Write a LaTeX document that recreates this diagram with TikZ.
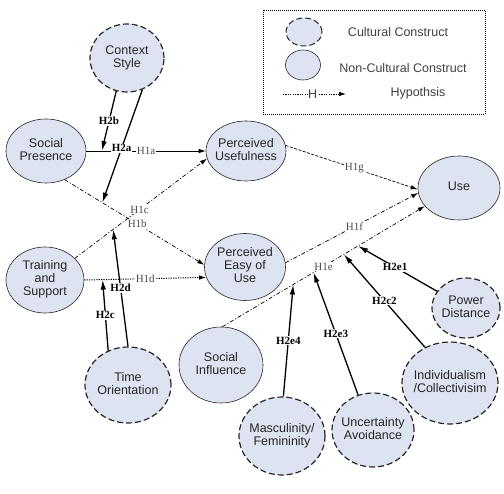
\documentclass[tikz,border=0pt]{standalone}
\usepackage{fontspec}
\setmainfont{Liberation Serif}
\setsansfont{Liberation Sans}
\usetikzlibrary{arrows.meta, shapes.geometric}

\definecolor{cfill}{RGB}{221,227,240}
\newcommand{\cname}[1]{\makebox[0pt]{\begin{tabular}{@{}c@{}}#1\end{tabular}}}

\begin{document}
\begin{tikzpicture}[x=1pt, y=-1pt, line join=round,
  construct/.style={ellipse, draw=black!85, fill=cfill, line width=0.6pt,
    inner sep=0pt, font=\sffamily\fontsize{12.5}{13}\selectfont, text=black!85},
  cultural/.style={construct, line width=1.2pt, dash pattern=on 6pt off 3pt},
  hlabel/.style={fill=white, inner sep=0.8pt, font=\fontsize{11}{12}\selectfont, text=black!70},
  mlabel/.style={fill=white, inner sep=0.8pt, font=\bfseries\fontsize{11}{12}\selectfont},
  hpath/.style={-{Latex[length=7pt,width=4.5pt]}, line width=0.7pt},
  mpath/.style={-{Latex[length=10pt,width=5.5pt]}, line width=1.3pt},
  dashdot/.style={dash pattern=on 4pt off 2pt on 1pt off 2pt},
  dotline/.style={dash pattern=on 1.2pt off 1.2pt, line width=1pt},
  fineline/.style={dash pattern=on 3pt off 1.5pt},
  legtext/.style={font=\sffamily\fontsize{12.5}{13}\selectfont, text=black!75}]

  \useasboundingbox (0,0) rectangle (504,494);

  %% ---- legend ----
  \draw[line width=0.8pt, dash pattern=on 1pt off 1pt] (263,10) rectangle (485,114);
  \node[cultural, minimum width=36, minimum height=28, line width=1pt] (lgcult) at (304,32) {};
  \node[legtext] (lgculttext) at (398,32) {Cultural Construct};
  \node[construct, minimum width=35, minimum height=30] (lgnon) at (303,65) {};
  \node[legtext] (lgnontext) at (403,68) {Non-Cultural Construct};
  \coordinate (lghypS) at (283,94);
  \coordinate (lghypE) at (346,94);
  \draw[hpath, dotline, line width=0.8pt] (lghypS) -- node[legtext, fill=white, inner sep=0.5pt, pos=.47] {H} (lghypE);
  \node[legtext] (lghyptext) at (418,93) {Hypothsis};

  %% ---- non-cultural constructs ----
  \node[construct, minimum width=80, minimum height=64] (sp) at (46,151) {\cname{Social\\Presence}};
  \node[construct, minimum width=80, minimum height=60] (pu) at (246,151) {\cname{Perceived\\Usefulness}};
  \node[construct, minimum width=82, minimum height=64] (use) at (459,188) {\cname{Use}};
  \node[construct, minimum width=78, minimum height=66] (ts) at (45,280) {\cname{Training\\and\\Support}};
  \node[construct, minimum width=81, minimum height=67] (peou) at (245,267) {\cname{Perceived\\Easy of\\Use}};
  \node[construct, minimum width=84, minimum height=76] (si) at (221,365) {\cname{Social\\Influence}};

  %% ---- cultural constructs ----
  \node[cultural, minimum width=74, minimum height=68] (cs) at (127,58) {\cname{Context\\Style}};
  \node[cultural, minimum width=86, minimum height=76] (to) at (128,385) {\cname{Time\\Orientation}};
  \node[cultural, minimum width=86, minimum height=78] (mf) at (282,436) {\cname{Masculinity/\\Femininity}};
  \node[cultural, minimum width=82, minimum height=74] (ua) at (373,430) {\cname{Uncertainty\\Avoidance}};
  \node[cultural, minimum width=96, minimum height=82] (ic) at (450,383) {\cname{Individualism\\/Collectivisim}};
  \node[cultural, minimum width=68, minimum height=60] (pd) at (466,308) {\cname{Power\\Distance}};

  %% ---- H1 hypotheses ----
  \draw[hpath] (sp.east) -- node[hlabel, pos=.5] {H1a} coordinate[pos=.13] (h2bT) (pu.west);
  \draw[hpath, dashdot] (sp.-57) -- node[hlabel, pos=.52] {H1b} coordinate[pos=.27] (h2aT) (peou.177);
  \draw[hpath, dashdot] (ts.36) -- node[hlabel, pos=.49] {H1c} coordinate[pos=.29] (h2dT) (pu.191);
  \draw[hpath, dotline] (ts.east) -- node[hlabel, pos=.5] {H1d} coordinate[pos=.15] (h2cT) (peou.195);
  \draw[hpath, dashdot] (si.88) -- node[hlabel, pos=.5] {H1e}
    coordinate[pos=.35] (h2e4T) coordinate[pos=.45] (h2e3T)
    coordinate[pos=.6] (h2e2T) coordinate[pos=.67] (h2e1T) (use.208);
  \draw[hpath, dashdot] (peou.6) -- node[hlabel, pos=.52] {H1f} (use.187);
  \draw[hpath, fineline] (pu.8) -- node[hlabel, pos=.52] {H1g} (use.182);

  %% ---- H2 moderators ----
  \draw[mpath] (cs.-108) -- node[mlabel, pos=.5] {H2b} (h2bT);
  \draw[mpath] (cs.-64) -- node[mlabel, pos=.52] {H2a} (h2aT);
  \draw[mpath] (to.120) -- node[mlabel, pos=.5] {H2c} (h2cT);
  \draw[mpath] (to.90) -- node[mlabel, pos=.5] {H2d} (h2dT);
  \draw[mpath] (pd.150) -- node[mlabel, pos=.53] {H2e1} (h2e1T);
  \draw[mpath] (ic.125) -- node[mlabel, pos=.5] {H2c2} (h2e2T);
  \draw[mpath] (ua.113) -- node[mlabel, pos=.5] {H2e3} (h2e3T);
  \draw[mpath] (mf.88) -- node[mlabel, pos=.5] {H2e4} (h2e4T);

\end{tikzpicture}
\end{document}
